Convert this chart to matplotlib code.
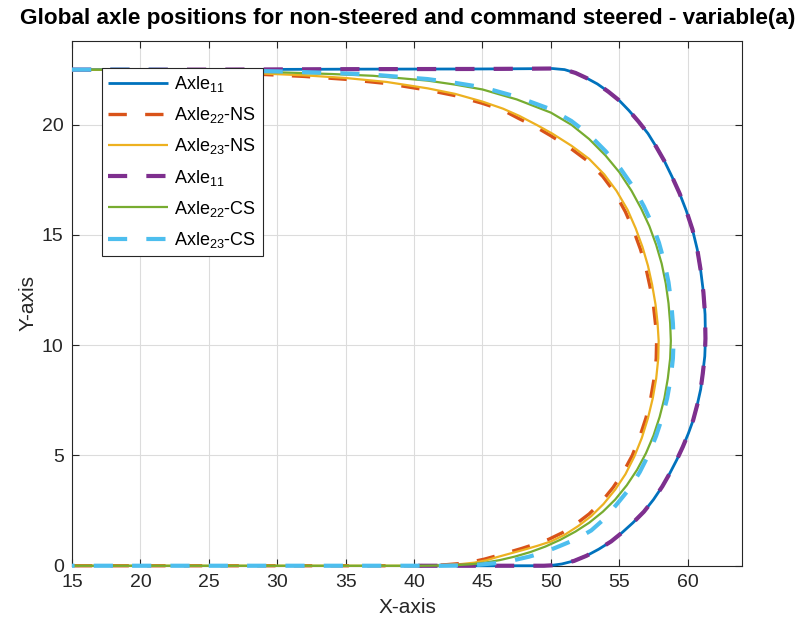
## Global axle positions, non-steered (NS) vs command steered (CS)
import numpy as np
import matplotlib.pyplot as plt

plt.rcParams['font.family'] = ['Liberation Sans', 'DejaVu Sans']
plt.rcParams['mathtext.fontset'] = 'custom'
plt.rcParams['mathtext.rm'] = 'Liberation Sans'
plt.rcParams['mathtext.it'] = 'Liberation Sans'

# Axle 11 (tractor), same path for both runs
x_axle11 = [15, 25, 35, 45, 48, 50.1, 51.0, 51.8, 52.6, 53.4, 54.2, 55.0, 55.7, 56.4, 57.1,
            57.7, 58.3, 58.85, 59.4, 59.9, 60.35, 60.7, 60.95, 61.15, 61.27, 61.3, 61.25,
            61.1, 60.95, 60.7, 60.4, 60.05, 59.65, 59.2, 58.7, 58.15, 57.5, 56.8, 56.0,
            55.2, 54.4, 53.5, 52.6, 51.7, 50.8, 50.1, 49.5, 45, 39.5]
y_axle11 = [22.5, 22.5, 22.52, 22.53, 22.54, 22.55, 22.5, 22.35, 22.12, 21.85, 21.5, 21.1,
            20.65, 20.15, 19.6, 19.0, 18.35, 17.65, 16.9, 16.1, 15.25, 14.35, 13.4, 12.4,
            11.4, 10.3, 9.5, 8.7, 8.0, 7.3, 6.6, 6.0, 5.4, 4.8, 4.2, 3.6, 3.0, 2.45, 1.95,
            1.5, 1.1, 0.75, 0.45, 0.22, 0.08, 0.02, 0.0, 0.0, 0.0]

# Axle 22, non-steered
x_axle22_ns = [15, 20, 25, 29, 32, 35, 38, 41, 43, 45, 46.5, 47.6, 48.9, 50.0, 51.4, 52.7,
               53.8, 54.7, 55.45, 56.05, 56.55, 56.95, 57.25, 57.5, 57.65, 57.73, 57.7,
               57.55, 57.3, 56.95, 56.5, 55.95, 55.3, 54.55, 53.7, 52.8, 51.85, 50.85, 49.85,
               48.85, 47.85, 46.85, 45.85, 45.15, 44.25, 43.35, 42.4, 41.4, 40.3, 30, 15]
y_axle22_ns = [22.5, 22.47, 22.39, 22.28, 22.19, 22.06, 21.87, 21.57, 21.32, 20.97, 20.66,
               20.3, 19.9, 19.5, 18.95, 18.35, 17.65, 16.9, 16.05, 15.2, 14.35, 13.5, 12.65,
               11.8, 10.95, 10.2, 9.4, 8.5, 7.6, 6.7, 5.85, 5.0, 4.25, 3.55, 2.9, 2.35, 1.9,
               1.5, 1.2, 0.98, 0.78, 0.6, 0.42, 0.3, 0.18, 0.1, 0.05, 0.02, 0, 0, 0]

# Axle 23, non-steered
x_axle23_ns = [15, 20, 25, 29, 32, 35, 38, 41, 43, 45, 46.5, 47.7, 49.0, 50.1, 51.5, 52.8,
               53.9, 54.8, 55.6, 56.2, 56.7, 57.1, 57.4, 57.65, 57.8, 57.88, 57.85, 57.7,
               57.45, 57.1, 56.65, 56.1, 55.45, 54.7, 53.85, 52.95, 52.0, 51.0, 50.0, 49.0,
               48.0, 47.0, 46.0, 45.3, 44.4, 43.5, 42.5, 41.5, 40.5, 30, 15]
y_axle23_ns = [22.5, 22.48, 22.42, 22.32, 22.24, 22.12, 21.94, 21.65, 21.4, 21.05, 20.73,
               20.4, 19.98, 19.6, 19.05, 18.45, 17.75, 17.0, 16.15, 15.3, 14.45, 13.6, 12.75,
               11.85, 11.0, 10.2, 9.4, 8.5, 7.6, 6.7, 5.8, 4.95, 4.15, 3.45, 2.8, 2.25, 1.8,
               1.4, 1.1, 0.9, 0.72, 0.55, 0.38, 0.25, 0.14, 0.08, 0.04, 0.01, 0, 0, 0]

# Axle 22, command steered
x_axle22_cs = [15, 20, 25, 30, 34, 37, 41, 43, 45, 47.5, 50, 51.5, 52.8, 54.0, 55.0, 55.9,
               56.6, 57.2, 57.7, 58.1, 58.4, 58.6, 58.72, 58.77, 58.72, 58.55, 58.3, 57.95,
               57.5, 56.95, 56.3, 55.55, 54.7, 53.8, 52.8, 51.8, 50.7, 49.6, 48.5, 47.4,
               46.3, 45.2, 44.2, 43.2, 42, 40.5, 15]
y_axle22_cs = [22.5, 22.49, 22.45, 22.38, 22.3, 22.22, 22.0, 21.82, 21.6, 21.15, 20.55,
               20.0, 19.35, 18.6, 17.85, 17.0, 16.2, 15.4, 14.55, 13.7, 12.8, 11.9, 11.0,
               10.2, 9.4, 8.5, 7.6, 6.75, 5.9, 5.1, 4.35, 3.65, 3.0, 2.45, 1.95, 1.55, 1.18,
               0.87, 0.62, 0.42, 0.26, 0.14, 0.07, 0.03, 0.01, 0, 0]

# Axle 23, command steered
x_axle23_cs = [15, 20, 25, 30, 34, 37, 41, 43, 45, 47.5, 50, 51.5, 52.8, 54.0, 55.1, 56.05,
               56.8, 57.4, 57.9, 58.3, 58.6, 58.8, 58.92, 58.97, 58.92, 58.76, 58.5, 58.15,
               57.7, 57.15, 56.5, 55.75, 54.9, 53.95, 52.95, 51.9, 50.75, 49.6, 48.4, 47.2,
               46.0, 44.8, 43.5, 42, 15]
y_axle23_cs = [22.5, 22.5, 22.47, 22.42, 22.35, 22.27, 22.07, 21.9, 21.7, 21.27, 20.7, 20.17,
               19.55, 18.8, 18.0, 17.15, 16.3, 15.5, 14.65, 13.75, 12.85, 11.9, 11.0, 10.2,
               9.4, 8.5, 7.6, 6.75, 5.9, 5.05, 4.25, 3.5, 2.85, 2.15, 1.6, 1.22, 0.92, 0.63,
               0.41, 0.24, 0.12, 0.05, 0.015, 0, 0]

labels = ['Axle$_{11}$', 'Axle$_{22}$-NS', 'Axle$_{23}$-NS',
          'Axle$_{11}$', 'Axle$_{22}$-CS', 'Axle$_{23}$-CS']
x_ticks = [15, 20, 25, 30, 35, 40, 45, 50, 55, 60]
y_ticks = [0, 5, 10, 15, 20]

fig = plt.figure(figsize=(8, 6.3), dpi=100)
ax = fig.add_axes([0.09, 0.102, 0.838, 0.833])

lines = []
lines += ax.plot(x_axle11, y_axle11, color='#0072BD', lw=2.0, label=labels[0])
lines += ax.plot(x_axle22_ns, y_axle22_ns, color='#D95319', lw=2.4, dashes=(5.5, 5.5), label=labels[1])
lines += ax.plot(x_axle23_ns, y_axle23_ns, color='#EDB120', lw=1.6, label=labels[2])
lines += ax.plot(x_axle11, y_axle11, color='#7E2F8E', lw=3.0, dashes=(4.6, 4.6), label=labels[3])
lines += ax.plot(x_axle22_cs, y_axle22_cs, color='#77AC30', lw=1.6, label=labels[4])
lines += ax.plot(x_axle23_cs, y_axle23_cs, color='#4DBEEE', lw=3.0, dashes=(4.6, 4.6), label=labels[5])
for ln in lines:
    ln.set_clip_on(False)
    ln.set_zorder(3)
    ln.set_solid_joinstyle('round')
    ln.set_solid_capstyle('butt')
    ln.set_dash_capstyle('butt')

ax.set_xlim(15, 64)
ax.set_ylim(0, 23.8)
ax.set_xticks(x_ticks)
ax.set_yticks(y_ticks)
ax.tick_params(direction='in', length=5, width=0.8, top=True, right=True,
               labelsize=14, colors='#262626', pad=6)
for s in ax.spines.values():
    s.set_color('#262626')
    s.set_linewidth(0.8)
ax.grid(True, color='#dcdcdc', lw=0.8)
ax.set_axisbelow(True)

ax.set_xlabel('X-axis', fontsize=15, color='#262626', labelpad=5)
ax.set_ylabel('Y-axis', fontsize=15, color='#262626', labelpad=3)
ax.set_title('Global axle positions for non-steered and command steered - variable(a)',
             fontsize=16.2, fontweight='bold', pad=12)

leg = ax.legend(loc='upper left', bbox_to_anchor=(0.045, 0.949), fontsize=13,
                handlelength=3.3, handletextpad=0.35, labelspacing=0.62,
                borderpad=0.35, borderaxespad=0, fancybox=False, framealpha=1)
leg.set_zorder(5)
leg.get_frame().set_edgecolor('#262626')
leg.get_frame().set_linewidth(0.8)

fig.savefig('out.png', dpi=100)
